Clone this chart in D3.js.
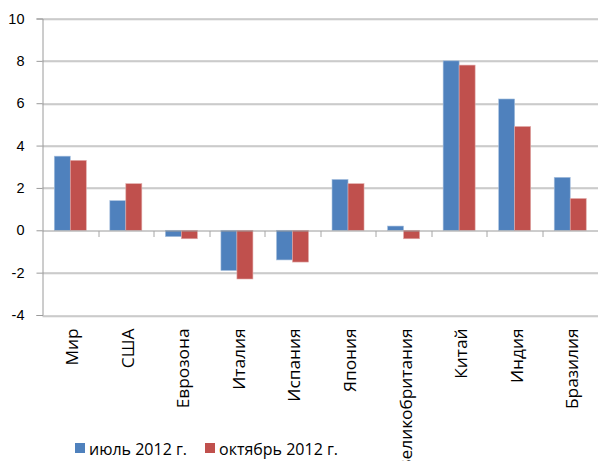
<!DOCTYPE html>
<html>
<head>
<meta charset="utf-8">
<script src="https://cdn.jsdelivr.net/npm/d3@7"></script>
<style>
  body { margin: 0; background: #fff; }
  svg { display: block; font-family: "Open Sans", Lato, sans-serif; }
</style>
</head>
<body>
<div id="chart"></div>
<script>
// Chart data
const categories = ['Мир', 'США', 'Еврозона', 'Италия', 'Испания', 'Япония', 'Великобритания', 'Китай', 'Индия', 'Бразилия'];
const julyValues = [3.5, 1.4, -0.3, -1.9, -1.4, 2.4, 0.2, 8.0, 6.2, 2.5];
const octoberValues = [3.3, 2.2, -0.4, -2.3, -1.5, 2.2, -0.4, 7.8, 4.9, 1.5];
const seriesNames = ['июль 2012 г.', 'октябрь 2012 г.'];
const yTicks = [-4, -2, 0, 2, 4, 6, 8, 10];

const W = 598, H = 461;
const margin = { top: 18.5, right: 0, bottom: 146, left: 42.5 };
const width = W - margin.left - margin.right;
const height = H - margin.top - margin.bottom;
const colors = ['#4F81BD', '#C0504D'];

const svg = d3.select('#chart').append('svg')
    .attr('width', W).attr('height', H);

const g = svg.append('g')
    .attr('transform', `translate(${margin.left},${margin.top})`);

const x = d3.scaleBand().domain(categories).range([0, width]).paddingInner(0).paddingOuter(0);
const y = d3.scaleLinear().domain([-4, 10]).range([height, 0]);

const barW = 16;
const x1 = d3.scaleBand().domain([0, 1]).range([x.bandwidth() / 2 - barW, x.bandwidth() / 2 + barW]);

// Gridlines with faint shadow
yTicks.filter(t => t !== 0).forEach(t => {
    g.append('line').attr('x1', 0).attr('x2', width)
        .attr('y1', Math.round(y(t)) + 1.5).attr('y2', Math.round(y(t)) + 1.5)
        .attr('stroke', '#e2e2e2').attr('stroke-width', 1);
    g.append('line').attr('x1', 0).attr('x2', width)
        .attr('y1', Math.round(y(t)) + 0.5).attr('y2', Math.round(y(t)) + 0.5)
        .attr('stroke', '#a6a6a6').attr('stroke-width', 1);
});

// Bars
const series = [julyValues, octoberValues];
series.forEach((vals, si) => {
    g.selectAll(`.bar-${si}`)
        .data(vals)
        .enter()
        .append('rect')
        .attr('x', (d, i) => x(categories[i]) + x1(si))
        .attr('y', d => y(Math.max(0, d)))
        .attr('width', x1.bandwidth())
        .attr('height', d => Math.abs(y(d) - y(0)))
        .attr('fill', colors[si])
        .attr('stroke', si === 0 ? '#a7c0de' : '#e0a9a8')
        .attr('stroke-width', 0.6);
});

// Y axis
const yAxis = g.append('g')
    .call(d3.axisLeft(y).tickValues(yTicks).tickSize(6).tickPadding(12).tickFormat(d3.format('d')));
yAxis.select('.domain').attr('stroke', '#9a9a9a');
yAxis.selectAll('.tick line').attr('stroke', '#9a9a9a');
yAxis.selectAll('text').style('font-size', '14.5px').attr('fill', '#000');
yAxis.selectAll('.tick text').text(d => d < 0 ? '-' + Math.abs(d) : d);

// Zero line with category ticks
const zero = Math.round(y(0)) + 0.5;
g.append('line').attr('x1', 0).attr('x2', width)
    .attr('y1', zero).attr('y2', zero)
    .attr('stroke', '#9a9a9a');
categories.slice(1).forEach(c => {
    g.append('line')
        .attr('x1', Math.round(x(c)) + 0.5).attr('x2', Math.round(x(c)) + 0.5)
        .attr('y1', zero).attr('y2', zero + 6)
        .attr('stroke', '#a6a6a6');
});

// Category labels, rotated
categories.forEach(c => {
    const cx = x(c) + x.bandwidth() / 2 + 8;
    g.append('text')
        .attr('transform', `translate(${cx},${height + 13.5}) rotate(-90) scale(1.08,1)`)
        .attr('text-anchor', 'end')
        .style('font-size', '16px')
        .attr('fill', '#000')
        .text(c);
});

// Legend
const legendItems = [{ x: 75, name: seriesNames[0], color: colors[0] }, { x: 205, name: seriesNames[1], color: colors[1] }];
legendItems.forEach(it => {
    svg.append('rect').attr('x', it.x).attr('y', 443).attr('width', 10).attr('height', 10).attr('fill', it.color);
    svg.append('text').attr('x', it.x + 14).attr('y', 455)
        .style('font-size', '16px').attr('fill', '#000').text(it.name);
});
</script>
</body>
</html>
